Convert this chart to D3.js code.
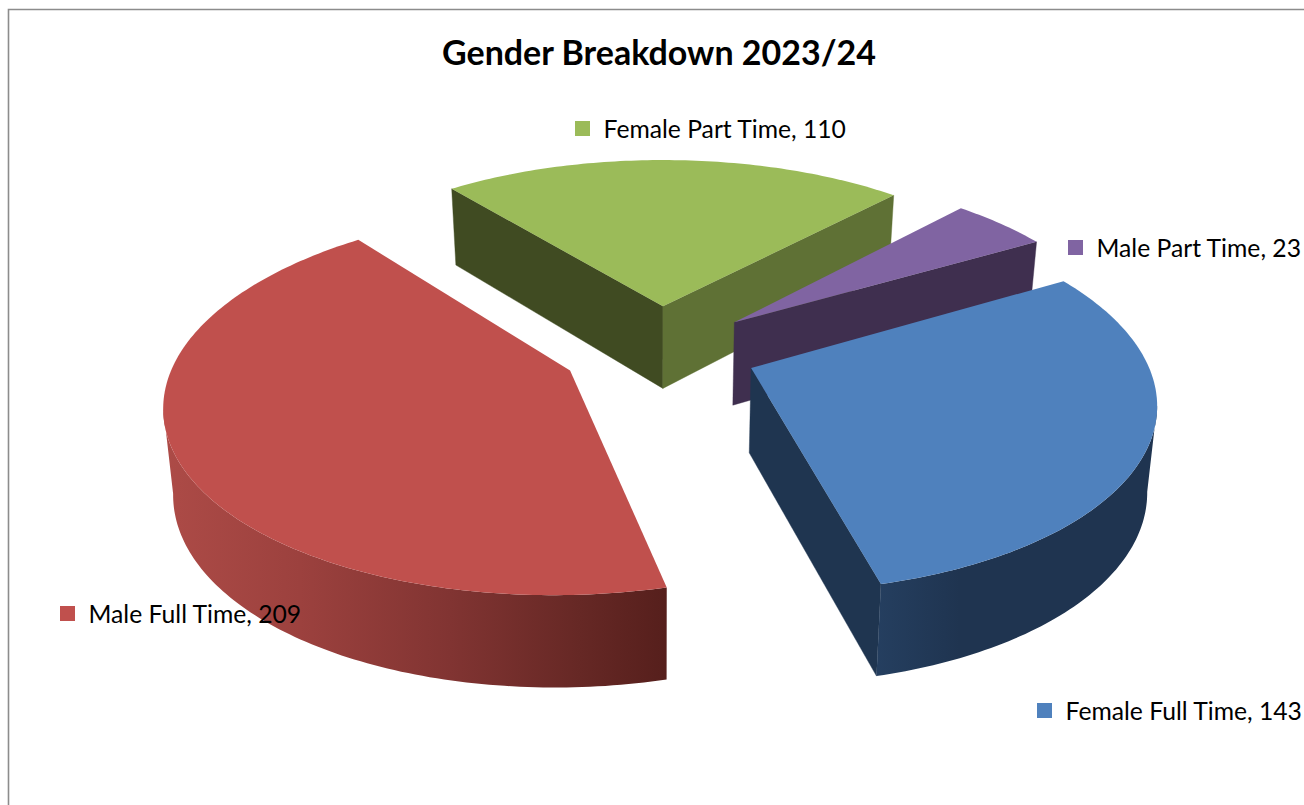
<!DOCTYPE html>
<html><head><meta charset="utf-8">
<script src="https://cdn.jsdelivr.net/npm/d3@7/dist/d3.min.js"></script>
<style>html,body{margin:0;padding:0;background:#fff}svg{display:block}text{font-family:Lato,"Open Sans",sans-serif;fill:#000}</style>
</head><body><svg id="c" width="1304" height="805"></svg>
<script>
const categories = ["Female Full Time","Male Full Time","Female Part Time","Male Part Time"];
const values = [143,209,110,23];
const topColors = ["#4f81bd","#c0504d","#9bbb59","#8064a2"];
const cutColors = ["#1f3550","#5a211e","#404b22","#3f2f4f"];
const labelAnchors = [[1037,703],[60,606],[575,121],[1068,240]];
const title = "Gender Breakdown 2023/24";

const cx=659.5, cy=350, rx=392, ry=182, k=0.158, explode=0.25, startDeg=60;
const svg=d3.select("#c");
const defs=svg.append("defs");
const project=(X,Y)=>{const s=1/(1-k*Y);return [cx+rx*X*s,cy+ry*Y*s];};
const lower=(X,Y)=>{const p=project(X,Y);return [cx+(p[0]-cx)*0.98,p[1]+84+7.5*Y];};
const line=d3.line();

const arcs=d3.pie().sort(null).value(d=>d).startAngle(startDeg*Math.PI/180).endAngle((360+startDeg)*Math.PI/180)(values);

function gradient(id,stops){
  const g=defs.append("linearGradient").attr("id",id).attr("gradientUnits","userSpaceOnUse")
    .attr("x1",stops[0][0]).attr("x2",stops[stops.length-1][0]).attr("y1",0).attr("y2",0);
  const span=stops[stops.length-1][0]-stops[0][0];
  stops.forEach(s=>g.append("stop").attr("offset",(s[0]-stops[0][0])/span).attr("stop-color",s[1]));
  return `url(#${id})`;
}
const wallFills=[
  gradient("w0",[[875,"#253f60"],[960,"#1f3450"],[1160,"#1f3450"]]),
  gradient("w1",[[163,"#ad4b47"],[300,"#9c413e"],[450,"#813432"],[580,"#662825"],[666,"#561f1c"]]),
  "#5f7135","#3f2f4f"
];

svg.append("path").attr("d","M8.5,805V9.5H1304").attr("fill","none").attr("stroke","#8c8c8c").attr("stroke-width",1.6);

const slices=arcs.map((a,i)=>{
  const m=(a.startAngle+a.endAngle)/2;
  const ox=explode*Math.sin(m), oy=-explode*Math.cos(m);
  const n=Math.max(8,Math.round((a.endAngle-a.startAngle)*60));
  const rim=d3.range(n+1).map(j=>{const t=a.startAngle+(a.endAngle-a.startAngle)*j/n;return [ox+Math.sin(t),oy-Math.cos(t)];});
  return {i,ox,oy,rim};
});

const order=slices.slice().sort((a,b)=>a.oy-b.oy);
order.forEach(s=>{
  const g=svg.append("g");
  const A=project(s.ox,s.oy), Abot=lower(s.ox,s.oy);
  const top=s.rim.map(r=>project(r[0],r[1]));
  const bot=s.rim.map(r=>lower(r[0],r[1]));
  const C=top[Math.floor(top.length/2)];
  [0,top.length-1].forEach(idx=>{
    const P=top[idx], Q=bot[idx];
    const ex=P[0]-A[0], ey=P[1]-A[1];
    const side=ex*(C[1]-A[1])-ey*(C[0]-A[0]);
    if(side*ex<0){
      const fill=s.i===2?(idx===0?"#404b22":"#5f7135"):cutColors[s.i];
      g.append("path").attr("d",line([A,P,Q,Abot])+"Z").attr("fill",fill).attr("stroke",fill).attr("stroke-width",0.4);
    }
  });
  const vis=d3.range(top.length-1).filter(j=>top[j+1][0]<top[j][0]&&s.rim[j][1]>s.oy-0.2);
  if(vis.length){
    const a=vis[0], b=vis[vis.length-1]+1;
    const path=top.slice(a,b+1).concat(bot.slice(a,b+1).reverse());
    g.append("path").attr("d",line(path)+"Z").attr("fill",wallFills[s.i]);
  }
  g.append("path").attr("d",line([A,...top])+"Z").attr("fill",topColors[s.i]);
});

svg.append("text").attr("x",659).attr("y",65).attr("text-anchor","middle")
  .attr("font-size",34).attr("font-weight",700).text(title);

categories.forEach((c,i)=>{
  const [x,y]=labelAnchors[i];
  svg.append("rect").attr("x",x).attr("y",y).attr("width",15).attr("height",15).attr("fill",topColors[i]);
  svg.append("text").attr("x",x+28.5).attr("y",y+17).attr("font-size",24.7).text(`${c}, ${values[i]}`);
});
</script></body></html>
